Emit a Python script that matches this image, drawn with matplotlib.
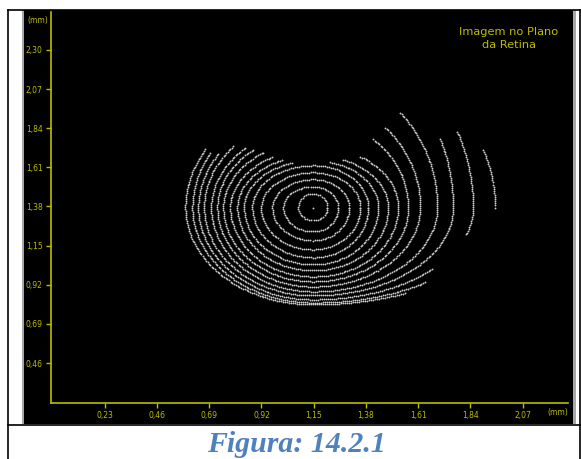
import numpy as np
import matplotlib
matplotlib.use("Agg")
import matplotlib.pyplot as plt
from matplotlib.patches import Rectangle
from matplotlib.lines import Line2D

# ---------------- data ----------------
x_ticks = [0.23, 0.46, 0.69, 0.92, 1.15, 1.38, 1.61, 1.84, 2.07]
y_ticks = [0.46, 0.69, 0.92, 1.15, 1.38, 1.61, 1.84, 2.07, 2.30]
x_tick_labels = ["0,23", "0,46", "0,69", "0,92", "1,15", "1,38", "1,61", "1,84", "2,07"]
y_tick_labels = ["0,46", "0,69", "0,92", "1,15", "1,38", "1,61", "1,84", "2,07", "2,30"]
title_text = "Imagem no Plano\nda Retina"
caption_text = "Figura: 14.2.1"

# ring centre (mm)
center_x = 1.148
center_y = 1.374
# ring extents (mm) from the centre: left, right, upper-left, upper-right, bottom
ring_left = [0.066, 0.132, 0.180, 0.229, 0.268, 0.304, 0.334, 0.365, 0.396, 0.422,
             0.449, 0.480, 0.506, 0.532, 0.563]
ring_right = [0.062, 0.110, 0.158, 0.207, 0.242, 0.286, 0.330, 0.374, 0.418, 0.471,
              0.546, 0.616, 0.704, 0.801, 0.858]
ring_top_left = [0.082, 0.123, 0.165, 0.206, 0.247, 0.276, 0.306, 0.341, 0.388, 0.435,
                 0.470, 0.529, 0.559, 0.612, 0.635]
ring_top_right = [0.082, 0.123, 0.165, 0.206, 0.247, 0.276, 0.306, 0.359, 0.517, 0.635,
                  0.782, 0.953, 1.023, 0.941, 0.941]
ring_bottom = [0.076, 0.141, 0.194, 0.247, 0.294, 0.335, 0.370, 0.406, 0.435, 0.465,
               0.494, 0.517, 0.541, 0.559, 0.570]
# visible arcs of each ring (angle in degrees, counter-clockwise from the right)
seg_ring = [0, 1, 2, 3, 4, 5, 6, 7, 8, 9, 10, 11, 12, 12, 13, 13, 14]
seg_from = [0, 0, 0, 0, 0, 107.7, 114.1, 119.6, 123.7, 128.7, 131.8, 137.2,
            145.7, 343.0, 148.4, 360.0, 147.5]
seg_to = [360, 360, 360, 360, 360, 434.8, 426.4, 416.4, 410.8, 407.7, 405.4, 384.9,
          318.0, 385.8, 308.0, 380.9, 298.0]

# ---------------- figure ----------------
W, H = 581, 459
fig = plt.figure(figsize=(W / 100, H / 100), dpi=100)
fig.patch.set_facecolor("white")

def fx(px):
    return px / W

def fy(py):
    return 1 - py / H

YEL = "#bcbc00"

# grey frame and black panel
fig.add_artist(Rectangle((fx(21.5), fy(424)), fx(575.5) - fx(21.5), fy(10) - fy(424),
                         transform=fig.transFigure, facecolor="#a8a8a8", edgecolor="none", zorder=0))
fig.add_artist(Rectangle((fx(24), fy(424)), fx(573) - fx(24), fy(10) - fy(424),
                         transform=fig.transFigure, facecolor="black", edgecolor="none", zorder=0))

# table borders
for (x0, y0, x1, y1) in [(8, 10, 8, 459), (579.5, 10, 579.5, 459), (8, 424.5, 580, 424.5),
                         (8, 10, 580, 10)]:
    fig.add_artist(Line2D([fx(x0), fx(x1)], [fy(y0), fy(y1)], transform=fig.transFigure,
                          color="black", lw=1.2, zorder=1))

ax_l, ax_r, ax_t, ax_b = 51, 568, 12, 403
ax = fig.add_axes([fx(ax_l), fy(ax_b), fx(ax_r) - fx(ax_l), fy(ax_t) - fy(ax_b)])
ax.set_facecolor("none")
ax.set_xlim(-0.007, 2.27)
ax.set_ylim(0.225, 2.523)
for sp in ["top", "right"]:
    ax.spines[sp].set_visible(False)
for sp in ["left", "bottom"]:
    ax.spines[sp].set_color(YEL)
    ax.spines[sp].set_linewidth(1.2)
ax.set_xticks(x_ticks)
ax.set_xticklabels(x_tick_labels)
ax.set_yticks(y_ticks)
ax.set_yticklabels(y_tick_labels)
ax.tick_params(direction="out", length=3.5, width=1, color=YEL, labelcolor=YEL,
               labelsize=5.5, pad=2.5)

# axis unit labels
fig.text(fx(48), fy(20), "(mm)", color=YEL, fontsize=5.5, ha="right", va="center")
fig.text(fx(558), fy(412), "(mm)", color=YEL, fontsize=5.5, ha="center", va="center")
fig.text(fx(509), fy(38.5), title_text, color=YEL, fontsize=8.2, ha="center", va="center",
         linespacing=1.3)

# ---------------- rings ----------------
def ring_xy(i, t_deg):
    t = np.radians(t_deg)
    c, s = np.cos(t), np.sin(t)
    rx = np.where(c >= 0, ring_right[i], ring_left[i])
    ry = np.where(s >= 0, np.where(c >= 0, ring_top_right[i], ring_top_left[i]), ring_bottom[i])
    return center_x + rx * c, center_y + ry * s

spacing = 2.0
xs, ys = [], []
for i, t0, t1 in zip(seg_ring, seg_from, seg_to):
    t = np.linspace(t0, t1, 3000)
    x, y = ring_xy(i, t)
    P = ax.transData.transform(np.column_stack([x, y]))
    d = np.r_[0, np.cumsum(np.hypot(*np.diff(P, axis=0).T))]
    n = max(int(d[-1] / spacing), 2)
    ts = np.interp(np.linspace(0, d[-1], n), d, t)
    x, y = ring_xy(i, ts)
    xs.append(x)
    ys.append(y)
ax.scatter(np.concatenate(xs), np.concatenate(ys), s=1.8, c="#cccccc", linewidths=0,
           zorder=3)
ax.scatter([center_x], [center_y], s=1.8, c="#cccccc", linewidths=0, zorder=3)

# caption
fig.text(fx(296), fy(452), caption_text, color="#4F81BD", fontsize=21.5,
         family="Liberation Serif", weight="bold", style="italic", ha="center",
         va="baseline")

fig.savefig("out.png", dpi=100, facecolor="white")
